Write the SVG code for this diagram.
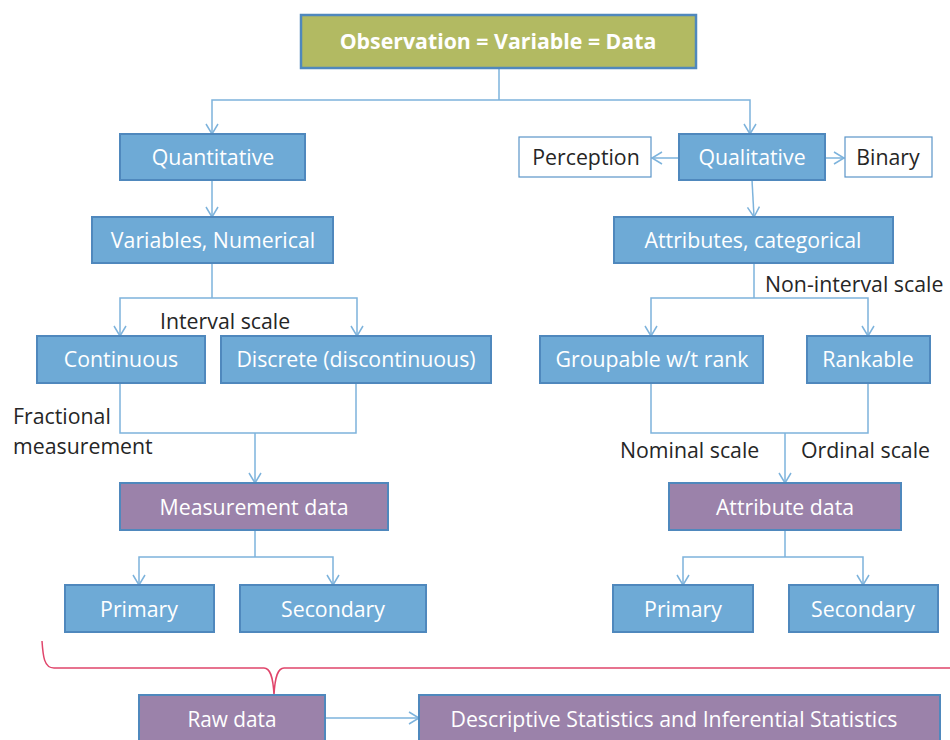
<svg xmlns="http://www.w3.org/2000/svg" width="950" height="740" viewBox="0 0 950 740">
<style>
.b{fill:#6eaad6;stroke:#4f88bd;stroke-width:2}
.p{fill:#9b82aa;stroke:#4f88bd;stroke-width:2}
.g{fill:#b2ba62;stroke:#4f88bd;stroke-width:2.5}
.w{fill:#fff;stroke:#5b95c8;stroke-width:1.2}
.t{font-family:"Open Sans","Liberation Sans",sans-serif;font-size:21.3px;fill:#fff;text-anchor:middle}
.k{font-family:"Open Sans","Liberation Sans",sans-serif;font-size:21.3px;fill:#262626}
.c{fill:none;stroke:#7db3dc;stroke-width:1.5}
</style>
<defs>
<marker id="a" markerWidth="14" markerHeight="14" refX="12" refY="7" orient="auto" markerUnits="userSpaceOnUse">
<path d="M2,1 L12,7 L2,13" fill="none" stroke="#7db3dc" stroke-width="1.5"/>
</marker>
</defs>
<rect width="950" height="740" fill="#fff"/>
<g id="connectors" class="c">
<path d="M499,68 V100"/>
<path d="M499,100 H212 V134" marker-end="url(#a)"/>
<path d="M499,100 H750 V134" marker-end="url(#a)"/>
<path d="M679,158 H652" marker-end="url(#a)"/>
<path d="M825,158 H844" marker-end="url(#a)"/>
<path d="M752,180 L754,217" marker-end="url(#a)"/>
<path d="M212,180 V217" marker-end="url(#a)"/>
<path d="M212,263 V298"/>
<path d="M212,298 H120 V336" marker-end="url(#a)"/>
<path d="M212,298 H357 V336" marker-end="url(#a)"/>
<path d="M120,383 V433 H356 V383"/>
<path d="M255,433 V483" marker-end="url(#a)"/>
<path d="M255,530 V557"/>
<path d="M255,557 H139 V585" marker-end="url(#a)"/>
<path d="M255,557 H333 V585" marker-end="url(#a)"/>
<path d="M754,263 V298"/>
<path d="M754,298 H651 V336" marker-end="url(#a)"/>
<path d="M754,298 H868 V336" marker-end="url(#a)"/>
<path d="M651,383 V433 H868 V383"/>
<path d="M785,433 V483" marker-end="url(#a)"/>
<path d="M785,530 V557"/>
<path d="M785,557 H683 V585" marker-end="url(#a)"/>
<path d="M785,557 H863 V585" marker-end="url(#a)"/>
<path d="M325,718 H419" marker-end="url(#a)"/>
<path d="M42,641 C43,656 44,668 54,668 H264 C270,668 273,676 274,695 C275,676 278,668 284,668 H950" stroke="#e0456b" stroke-width="1.5"/>
</g>
<g id="observation"><rect class="g" x="301" y="15" width="395" height="53"/><text class="t" x="498" y="49" font-weight="bold" font-size="19.6px">Observation = Variable = Data</text></g>
<g id="quantitative"><rect class="b" x="120" y="134" width="185" height="46"/><text class="t" x="213" y="165">Quantitative</text></g>
<g id="variables"><rect class="b" x="92" y="217" width="241" height="46"/><text class="t" x="213" y="248">Variables, Numerical</text></g>
<g id="qualitative"><rect class="b" x="679" y="134" width="146" height="46"/><text class="t" x="752" y="165">Qualitative</text></g>
<g id="perception"><rect class="w" x="519" y="137" width="132" height="40"/><text class="k" x="586" y="165" text-anchor="middle">Perception</text></g>
<g id="binary"><rect class="w" x="845" y="137" width="87" height="40"/><text class="k" x="888" y="165" text-anchor="middle">Binary</text></g>
<g id="attributes"><rect class="b" x="614" y="217" width="279" height="46"/><text class="t" x="753" y="248">Attributes, categorical</text></g>
<g id="continuous"><rect class="b" x="37" y="336" width="168" height="47"/><text class="t" x="121" y="367">Continuous</text></g>
<g id="discrete"><rect class="b" x="221" y="336" width="270" height="47"/><text class="t" x="356" y="367">Discrete (discontinuous)</text></g>
<g id="groupable"><rect class="b" x="540" y="336" width="223" height="47"/><text class="t" x="652" y="367">Groupable w/t rank</text></g>
<g id="rankable"><rect class="b" x="807" y="336" width="123" height="47"/><text class="t" x="868" y="367">Rankable</text></g>
<g id="labels">
<text class="k" x="160" y="329">Interval scale</text>
<text class="k" x="765" y="292">Non-interval scale</text>
<text class="k" x="13" y="424">Fractional</text>
<text class="k" x="13" y="454">measurement</text>
<text class="k" x="620" y="458">Nominal scale</text>
<text class="k" x="801" y="458">Ordinal scale</text>
</g>
<g id="measurement"><rect class="p" x="120" y="483" width="268" height="47"/><text class="t" x="254" y="515">Measurement data</text></g>
<g id="attributedata"><rect class="p" x="669" y="483" width="232" height="47"/><text class="t" x="785" y="515">Attribute data</text></g>
<g id="primary1"><rect class="b" x="65" y="585" width="149" height="47"/><text class="t" x="139" y="617">Primary</text></g>
<g id="secondary1"><rect class="b" x="240" y="585" width="186" height="47"/><text class="t" x="333" y="617">Secondary</text></g>
<g id="primary2"><rect class="b" x="613" y="585" width="140" height="47"/><text class="t" x="683" y="617">Primary</text></g>
<g id="secondary2"><rect class="b" x="789" y="585" width="149" height="47"/><text class="t" x="863" y="617">Secondary</text></g>
<g id="rawdata"><rect class="p" x="139" y="695" width="186" height="50"/><text class="t" x="232" y="727" textLength="89" lengthAdjust="spacingAndGlyphs">Raw data</text></g>
<g id="descriptive"><rect class="p" x="419" y="695" width="521" height="50"/><text class="t" x="674" y="727" textLength="447" lengthAdjust="spacingAndGlyphs">Descriptive Statistics and Inferential Statistics</text></g>
</svg>
